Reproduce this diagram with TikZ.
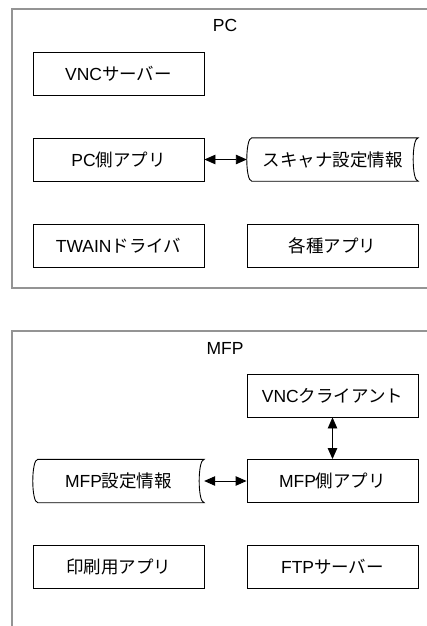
\documentclass[tikz,border=0pt]{standalone}
\usepackage{fontspec}
\setmainfont{Liberation Sans}
\newfontfamily\jp{Noto Sans CJK JP}
\usetikzlibrary{arrows.meta}
\tikzset{
  box/.style={draw=black, line width=0.9pt, minimum width=171pt, minimum height=43pt, inner sep=0pt, font=\fontsize{17.5}{20}\selectfont},
  store/.style={draw=none, minimum width=171pt, minimum height=43pt, inner sep=0pt, font=\fontsize{17.5}{20}\selectfont},
  storeline/.style={draw=black, line width=0.9pt},
  frame/.style={draw=black!42, line width=1.4pt},
  lbl/.style={font=\fontsize{17.5}{20}\selectfont, inner sep=0pt},
  link/.style={draw=black, line width=0.9pt, {Triangle[length=11pt,width=9.5pt]}-{Triangle[length=11pt,width=9.5pt]}}
}
\begin{document}
\begin{tikzpicture}[x=1pt,y=-1pt]
\useasboundingbox (0,0) rectangle (427,626);
\clip (0,0) rectangle (427,626);
% frames
\draw[frame] (445,9) -- (12,9) -- (12,288) -- (445,288);
\draw[frame] (445,331) -- (12,331) -- (12,640);
\node[lbl] (pc) at (225,25) {PC};
\node[lbl] (mfp) at (225,348) {MFP};
% PC boxes
\node[box] (vncs) at (118.5,73.5) {VNC{\jp サーバー}};
\node[box] (pcapp) at (118.5,159.5) {PC{\jp 側アプリ}};
\node[box] (twain) at (118.5,245.5) {TWAIN{\jp ドライバ}};
\node[box] (misc) at (332.5,245.5) {\jp 各種アプリ};
\node[store] (scan) at (332.5,159.5) {\jp スキャナ設定情報};
\draw[storeline] ([xshift=5pt]scan.north west) -- (scan.north east)
  .. controls ([xshift=-6.7pt]scan.north east) and ([xshift=-6.7pt]scan.south east) .. (scan.south east)
  -- ([xshift=5pt]scan.south west)
  .. controls ([xshift=-1.7pt]scan.south west) and ([xshift=-1.7pt]scan.north west) .. ([xshift=5pt]scan.north west) -- cycle;
% MFP boxes
\node[box] (vncc) at (332.5,395.5) {VNC{\jp クライアント}};
\node[box] (mfpapp) at (332.5,481) {MFP{\jp 側アプリ}};
\node[store] (minfo) at (118.5,481) {MFP{\jp 設定情報}};
\draw[storeline] ([xshift=5pt]minfo.north west) -- (minfo.north east)
  .. controls ([xshift=-6.7pt]minfo.north east) and ([xshift=-6.7pt]minfo.south east) .. (minfo.south east)
  -- ([xshift=5pt]minfo.south west)
  .. controls ([xshift=-1.7pt]minfo.south west) and ([xshift=-1.7pt]minfo.north west) .. ([xshift=5pt]minfo.north west) -- cycle;
\node[box] (print) at (118.5,567) {\jp 印刷用アプリ};
\node[box] (ftp) at (332.5,567) {FTP{\jp サーバー}};
% connectors
\draw[link] (pcapp.east) -- (scan.west);
\draw[link] (vncc.south) -- (mfpapp.north);
\draw[link] (minfo.east) -- (mfpapp.west);
\end{tikzpicture}
\end{document}
